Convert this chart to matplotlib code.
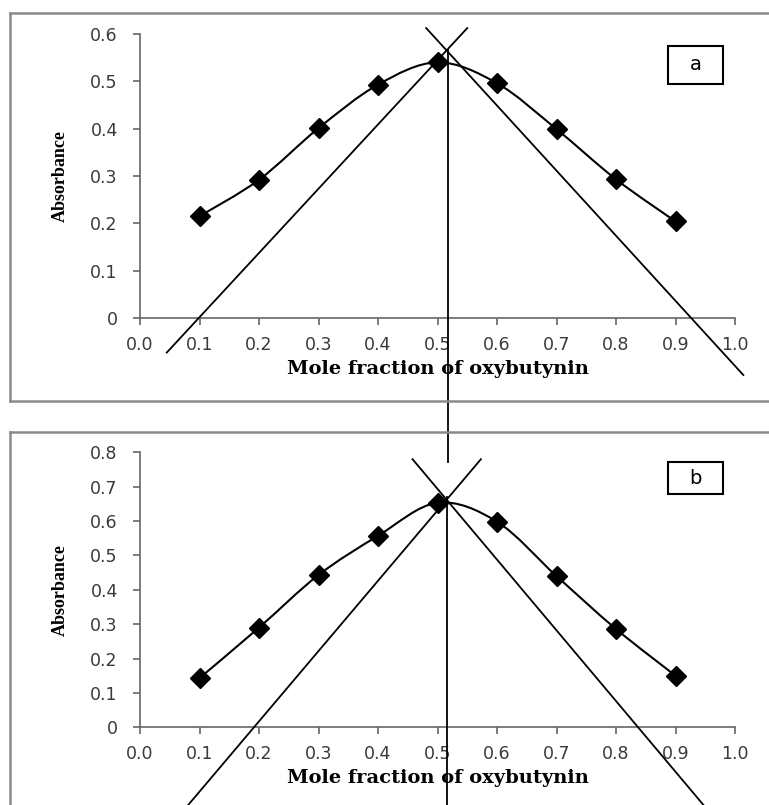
import numpy as np
import matplotlib.pyplot as plt
from matplotlib.path import Path
from matplotlib.patches import PathPatch, Rectangle
from matplotlib.lines import Line2D

# mole fraction of oxybutynin
mole_fraction = [0.1, 0.2, 0.3, 0.4, 0.5, 0.6, 0.7, 0.8, 0.9]
# absorbance, panel a and panel b
absorbance_a = [0.215, 0.292, 0.401, 0.493, 0.540, 0.496, 0.399, 0.293, 0.204]
absorbance_b = [0.143, 0.290, 0.443, 0.557, 0.653, 0.598, 0.440, 0.286, 0.150]

# hand-drawn tangent lines (data coords of each panel)
rise_a_x, rise_a_y = [0.045, 0.550], [-0.073, 0.6125]
fall_a_x, fall_a_y = [0.481, 1.014], [0.6125, -0.1205]
vert_a_x, vert_a_y = [0.517, 0.517], [0.567, -0.304]

rise_b_x, rise_b_y = [0.081, 0.573], [-0.226, 0.780]
fall_b_x, fall_b_y = [0.458, 0.947], [0.780, -0.226]
vert_b_x, vert_b_y = [0.516, 0.516], [0.671, -0.24]

x_ticks = [0.0, 0.1, 0.2, 0.3, 0.4, 0.5, 0.6, 0.7, 0.8, 0.9, 1.0]

W, H = 769, 805
fig = plt.figure(figsize=(W / 100, H / 100), dpi=100)


def px_box(left, top, right, bottom):
    return [left / W, 1 - bottom / H, (right - left) / W, (bottom - top) / H]


def smooth_path(xs, ys):
    # excel-style smoothed line: bezier segments through the points
    pts = np.column_stack([xs, ys])
    verts = [pts[0]]
    codes = [Path.MOVETO]
    n = len(pts)
    for i in range(n - 1):
        p0 = pts[i - 1] if i > 0 else pts[i]
        p1, p2 = pts[i], pts[i + 1]
        p3 = pts[i + 2] if i + 2 < n else pts[i + 1]
        verts += [p1 + (p2 - p0) / 6, p2 - (p3 - p1) / 6, p2]
        codes += [Path.CURVE4] * 3
    return Path(verts, codes)


def setup(ax, ymax, ystep):
    ax.set_facecolor('none')
    ax.set_xlim(0, 1.0)
    ax.set_ylim(0, ymax)
    ax.set_xticks(x_ticks)
    ax.set_xticklabels([f'{t:.1f}' for t in x_ticks])
    yt = np.round(np.arange(0, ymax + 1e-9, ystep), 1)
    ax.set_yticks(yt)
    ax.set_yticklabels(['0' if t == 0 else f'{t:.1f}' for t in yt])
    for s in ['top', 'right']:
        ax.spines[s].set_visible(False)
    for s in ['left', 'bottom']:
        ax.spines[s].set_color('#666666')
        ax.spines[s].set_linewidth(1.2)
    ax.tick_params(axis='both', direction='out', length=5, width=1.2, color='#666666',
                   labelcolor='#3a3a3a', labelsize=12.5)
    ax.tick_params(axis='y', pad=11)
    ax.tick_params(axis='x', pad=8)
    ax.set_xlabel('Mole fraction of oxybutynin', fontfamily='DejaVu Serif',
                  fontweight='bold', fontsize=14, labelpad=4)
    ax.set_ylabel('Absorbance', fontfamily='Liberation Serif', fontweight='bold',
                  fontsize=13, labelpad=15)


def draw_panel(ax, absorbance, lines):
    ax.add_patch(PathPatch(smooth_path(mole_fraction, absorbance), facecolor='none',
                           edgecolor='black', lw=1.5, zorder=3))
    ax.plot(mole_fraction, absorbance, linestyle='none', marker='D', markersize=10,
            color='black', zorder=4)
    for lx, ly in lines:
        ax.plot(lx, ly, color='black', lw=1.3, clip_on=False, zorder=5)


ax_a = fig.add_axes(px_box(140, 34, 735, 318))
setup(ax_a, 0.6, 0.1)
draw_panel(ax_a, absorbance_a, [(rise_a_x, rise_a_y), (fall_a_x, fall_a_y), (vert_a_x, vert_a_y)])

ax_b = fig.add_axes(px_box(140, 452.3, 735, 727.3))
setup(ax_b, 0.8, 0.1)
draw_panel(ax_b, absorbance_b, [(rise_b_x, rise_b_y), (fall_b_x, fall_b_y), (vert_b_x, vert_b_y)])


# panel borders and letter boxes, in pixels
def fig_line(x0, y0, x1, y1):
    fig.add_artist(Line2D([x0 / W, x1 / W], [1 - y0 / H, 1 - y1 / H], color='#8a8a8a',
                          lw=1.8, transform=fig.transFigure))


fig_line(10, 13, W, 13)
fig_line(10, 13, 10, 401)
fig_line(10, 401, W, 401)
fig_line(10, 432, W, 432)
fig_line(10, 432, 10, H)

for letter, top, bottom in [('a', 46, 84), ('b', 462, 494)]:
    l, b, w, h = px_box(668, top, 723, bottom)
    fig.add_artist(Rectangle((l, b), w, h, transform=fig.transFigure, facecolor='white',
                             edgecolor='black', lw=1.5))
    fig.text(l + w / 2, b + h / 2, letter, ha='center', va='center', fontsize=14,
             fontfamily='DejaVu Sans')

fig.savefig('out.png', dpi=100)
